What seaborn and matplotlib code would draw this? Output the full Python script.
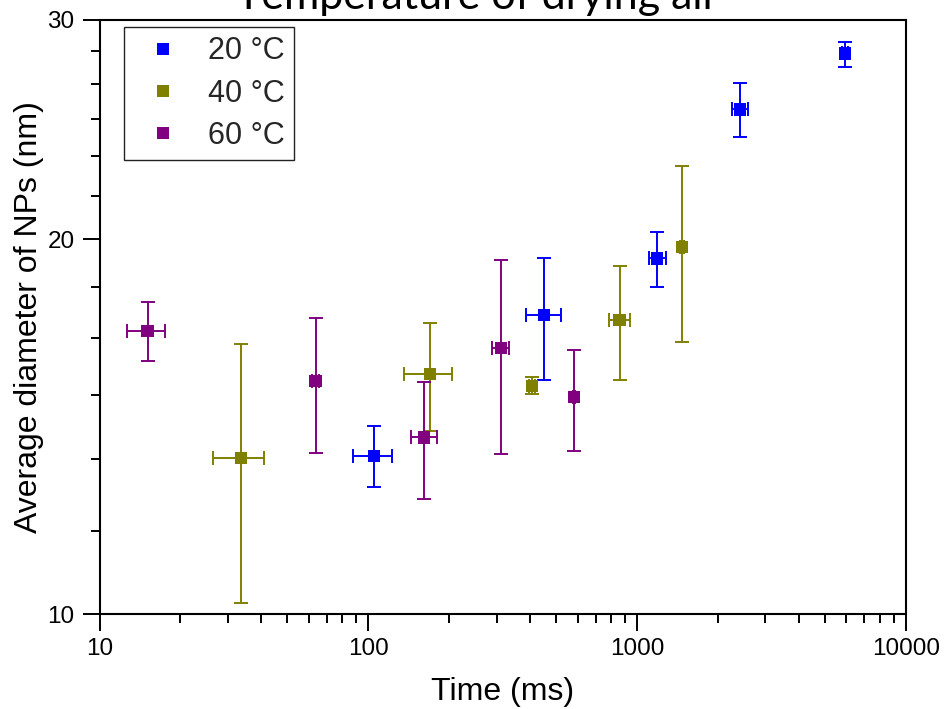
import numpy as np
import pandas as pd
import matplotlib
matplotlib.use("Agg")
import matplotlib.pyplot as plt
import matplotlib.ticker as mticker
import seaborn as sns

# ---- data ----
series_labels = ["20 \u00b0C", "40 \u00b0C", "60 \u00b0C"]
series_colors = ["#0000FF", "#808000", "#800080"]

t20 = [104.8, 450, 1184, 2412, 5943]
d20 = [13.41, 17.39, 19.31, 25.43, 28.20]
t20_lo = [87.8, 385, 1104, 2251, 5800]
t20_hi = [122.6, 521, 1280, 2575, 6090]
d20_lo = [12.66, 15.41, 18.31, 24.17, 27.52]
d20_hi = [14.16, 19.32, 20.28, 26.71, 28.82]

t40 = [33.6, 169.3, 406.4, 861, 1467]
d40 = [13.35, 15.60, 15.26, 17.24, 19.72]
t40_lo = [26.4, 135.9, 395, 786, 1440]
t40_hi = [40.9, 204.4, 418, 938, 1495]
d40_lo = [10.21, 14.03, 15.02, 15.42, 16.56]
d40_hi = [16.47, 17.15, 15.50, 19.03, 22.89]

t60 = [15.1, 63.6, 160.8, 310.9, 580.7]
d60 = [16.88, 15.39, 13.87, 16.37, 14.94]
t60_lo = [12.7, 61.5, 143.5, 288.5, 575]
t60_hi = [17.5, 65.5, 179.3, 333.8, 586]
d60_lo = [15.97, 13.47, 12.39, 13.45, 13.53]
d60_hi = [17.80, 17.29, 15.36, 19.24, 16.31]

x_ticks = [10, 100, 1000, 10000]
x_ticklabels = ["10", "100", "1000", "10000"]
y_ticks = [10, 20, 30]
y_ticklabels = ["10", "20", "30"]
y_minor = [11.67, 13.33, 15.0, 16.67, 18.33, 21.67, 23.33, 25.0, 26.67, 28.33]

title = "Temperature of drying air"
xlabel = "Time (ms)"
ylabel = "Average diameter of NPs (nm)"

# ---- assemble ----
frames = []
for lab, t, d, tl, th, dl, dh in [
    (series_labels[0], t20, d20, t20_lo, t20_hi, d20_lo, d20_hi),
    (series_labels[1], t40, d40, t40_lo, t40_hi, d40_lo, d40_hi),
    (series_labels[2], t60, d60, t60_lo, t60_hi, d60_lo, d60_hi),
]:
    frames.append(pd.DataFrame({"series": lab, "time": t, "diam": d,
                                "t_lo": tl, "t_hi": th, "d_lo": dl, "d_hi": dh}))
df = pd.concat(frames, ignore_index=True)

sns.set_theme(style="ticks")
plt.rcParams["font.family"] = ["Liberation Sans", "DejaVu Sans"]

fig = plt.figure(figsize=(9.47, 7.09), dpi=100)
ax = fig.add_axes([0.1051, 0.1333, 0.8516, 0.8385])

palette = dict(zip(series_labels, series_colors))
for lab in series_labels:
    sub = df[df["series"] == lab]
    ax.errorbar(sub["time"], sub["diam"],
                xerr=[sub["time"] - sub["t_lo"], sub["t_hi"] - sub["time"]],
                yerr=[sub["diam"] - sub["d_lo"], sub["d_hi"] - sub["diam"]],
                fmt="none", ecolor=palette[lab], elinewidth=1.4,
                capsize=4.7, capthick=1.4, zorder=2)

sns.scatterplot(data=df, x="time", y="diam", hue="series", palette=palette,
                hue_order=series_labels, marker="s", s=80, linewidth=0,
                ax=ax, zorder=3)

ax.set_xscale("log")
ax.set_yscale("log")
ax.set_xlim(10, 10000)
ax.set_ylim(10, 30)

ax.xaxis.set_major_locator(mticker.FixedLocator(x_ticks))
ax.xaxis.set_major_formatter(mticker.FixedFormatter(x_ticklabels))
ax.xaxis.set_minor_locator(mticker.LogLocator(base=10, subs=np.arange(2, 10)))
ax.xaxis.set_minor_formatter(mticker.NullFormatter())
ax.yaxis.set_major_locator(mticker.FixedLocator(y_ticks))
ax.yaxis.set_major_formatter(mticker.FixedFormatter(y_ticklabels))
ax.yaxis.set_minor_locator(mticker.FixedLocator(y_minor))
ax.yaxis.set_minor_formatter(mticker.NullFormatter())

ax.tick_params(axis="both", which="major", length=12, width=1.4, labelsize=17.5,
               color="black", labelcolor="black", direction="out")
ax.tick_params(axis="both", which="minor", length=6.5, width=1.4,
               color="black", direction="out")
ax.tick_params(axis="x", which="major", pad=5)
ax.tick_params(axis="y", which="major", pad=6)

for sp in ax.spines.values():
    sp.set_visible(True)
    sp.set_color("black")
    sp.set_linewidth(1.5)

ax.set_xlabel(xlabel, fontsize=23, color="black")
ax.set_ylabel(ylabel, fontsize=23, color="black")
ax.xaxis.set_label_coords(0.5, -0.105)
ax.yaxis.set_label_coords(-0.069, 0.5)

handles, labels = ax.get_legend_handles_labels()
leg = ax.legend(handles, labels, loc="upper left", bbox_to_anchor=(0.030, 0.988),
                borderaxespad=0, fontsize=22, frameon=True, fancybox=False,
                borderpad=0.3, handlelength=2.0, handletextpad=0.45,
                labelspacing=0.4, markerscale=0.95, title=None)
leg.get_frame().set_edgecolor("#222222")
leg.get_frame().set_linewidth(1.0)
leg.get_frame().set_alpha(1)

fig.text(0.504, 1 - 9 / 709, title, ha="center", va="baseline",
         fontsize=31, family=["Lato", "DejaVu Sans"], color="black")

fig.savefig("out.png", dpi=100, facecolor="white")
